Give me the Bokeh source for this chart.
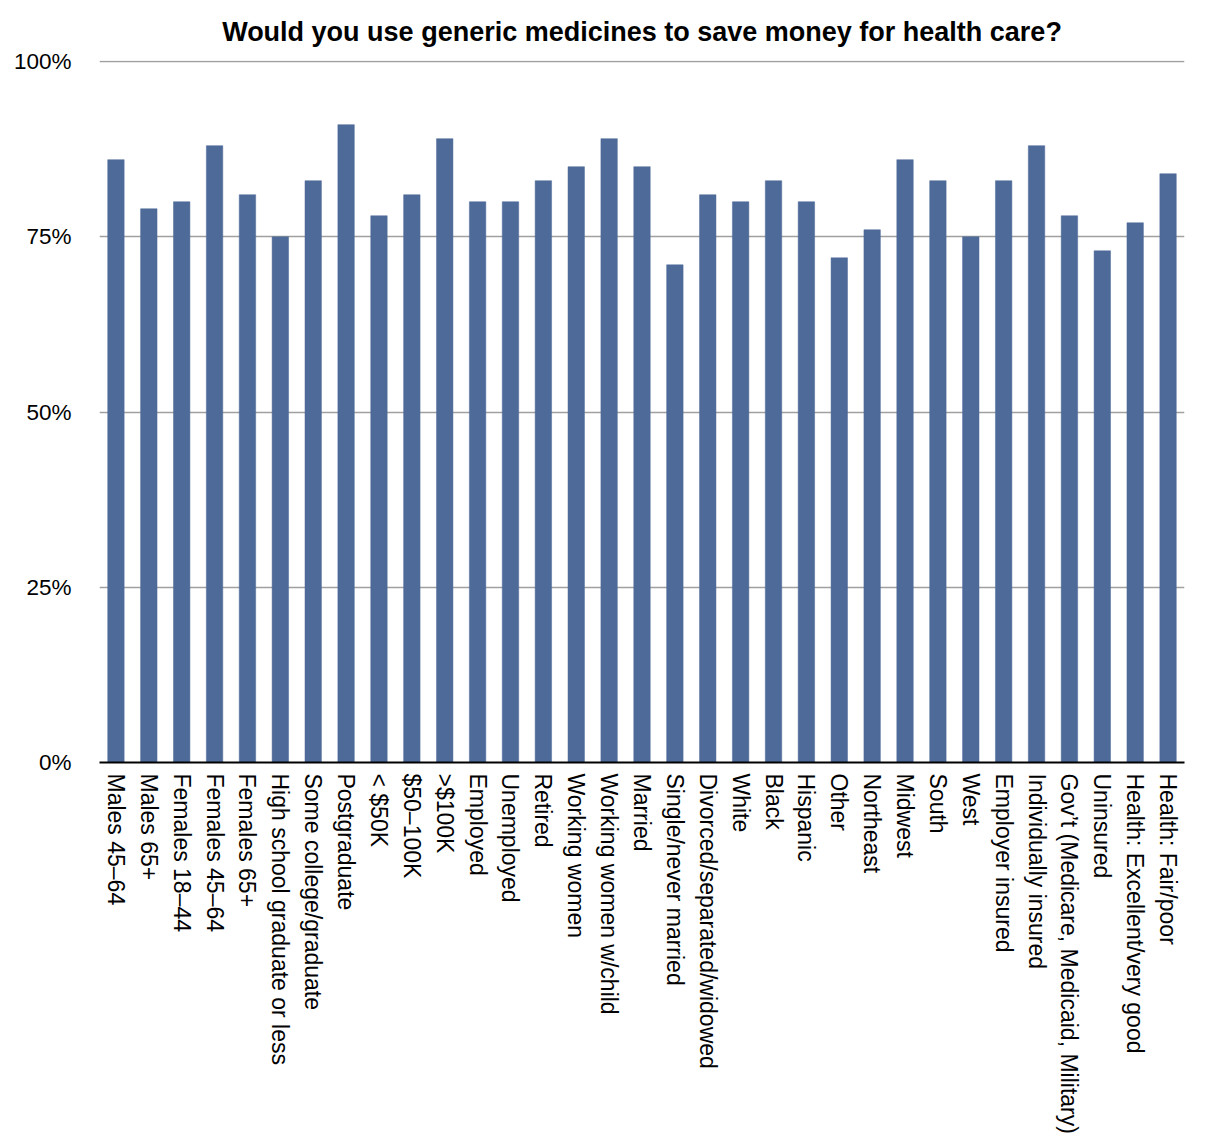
import math
from bokeh.plotting import figure
from bokeh.models import ColumnDataSource, NumeralTickFormatter, FixedTicker, Range1d
from bokeh.embed import file_html
from bokeh.resources import INLINE

categories = [
    "Males 45–64", "Males 65+", "Females 18–44", "Females 45–64", "Females 65+",
    "High school graduate or less", "Some college/graduate", "Postgraduate",
    "< $50K", "$50–100K", ">$100K", "Employed", "Unemployed", "Retired",
    "Working women", "Working women w/child", "Married", "Single/never married",
    "Divorced/separated/widowed", "White", "Black", "Hispanic", "Other",
    "Northeast", "Midwest", "South", "West", "Employer insured",
    "Individually insured", "Gov’t (Medicare, Medicaid, Military)", "Uninsured",
    "Health: Excellent/very good", "Health: Fair/poor",
]
values = [
    0.86, 0.79, 0.80, 0.88, 0.81,
    0.75, 0.83, 0.91,
    0.78, 0.81, 0.89, 0.80, 0.80, 0.83,
    0.85, 0.89, 0.85, 0.71,
    0.81, 0.80, 0.83, 0.80, 0.72,
    0.76, 0.86, 0.83, 0.75, 0.83,
    0.88, 0.78, 0.73,
    0.77, 0.84,
]
y_ticks = [0, 0.25, 0.5, 0.75, 1.0]

FONT = "Liberation Sans"
source = ColumnDataSource(data=dict(cat=categories, val=values))

p = figure(
    x_range=categories,
    y_range=Range1d(0, 1.0015),
    width=1200, height=1140,
    output_backend="svg", toolbar_location=None,
    title="Would you use generic medicines to save money for health care?",
    min_border_left=99, min_border_right=16,
    min_border_top=60, min_border_bottom=378,
)
p.x_range.range_padding = 0

p.vbar(x="cat", top="val", width=0.5, source=source,
       fill_color="#4E6A99", line_color="#4E6A99", line_width=0.5)

p.title.text_font = FONT
p.title.text_font_size = "27px"
p.title.text_font_style = "bold"
p.title.align = "center"
p.title.text_color = "#000000"
p.title.standoff = 28

p.outline_line_color = None
p.background_fill_color = "white"
p.border_fill_color = "white"

p.xgrid.grid_line_color = None
p.ygrid.grid_line_color = "#A0A0A0"
p.ygrid.grid_line_width = 1.5
p.ygrid.ticker = FixedTicker(ticks=y_ticks)

yax = p.yaxis[0]
yax.ticker = FixedTicker(ticks=y_ticks)
yax.formatter = NumeralTickFormatter(format="0%")
yax.axis_line_color = None
yax.major_tick_line_color = None
yax.minor_tick_line_color = None
yax.major_label_text_font = FONT
yax.major_label_text_font_size = "22.5px"
yax.major_label_text_color = "#000000"
yax.major_label_standoff = 22

xax = p.xaxis[0]
xax.axis_line_color = "#000000"
xax.axis_line_width = 2
xax.major_tick_line_color = None
xax.minor_tick_line_color = None
xax.major_tick_out = 0
xax.major_label_orientation = -math.pi / 2
xax.major_label_text_font = FONT
xax.major_label_text_font_size = "23px"
xax.major_label_text_color = "#000000"
xax.major_label_standoff = 11

open("out.html", "w").write(file_html(p, INLINE))
